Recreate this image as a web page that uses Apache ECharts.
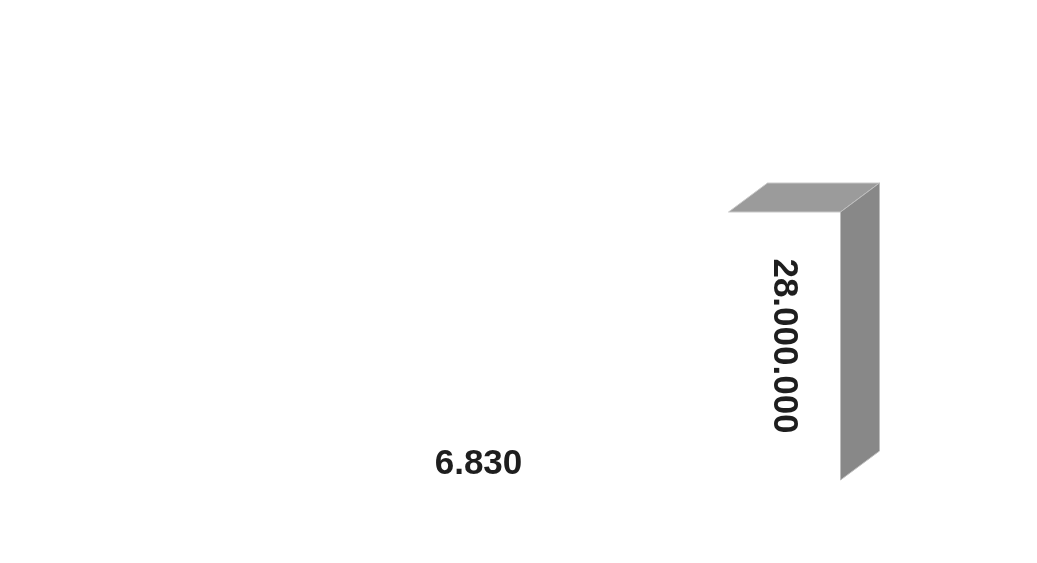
<!DOCTYPE html>
<html>
<head>
<meta charset="utf-8">
<script src="https://cdn.jsdelivr.net/npm/echarts@6/dist/echarts.min.js"></script>
<style>
html, body { margin: 0; padding: 0; background: #fff; }
#main { width: 1037px; height: 563px; }
</style>
</head>
<body>
<div id="main"></div>
<script>
var categories = ['A', 'B'];
var values = [6830, 28000000];

function fmt(v) {
    return String(v).replace(/\B(?=(\d{3})+(?!\d))/g, '.');
}

var myChart = echarts.init(document.getElementById('main'));
var depthX = 39, depthY = 29, barW = 112;

var option = {
    animation: false,
    grid: { left: 324, width: 614, top: 212, bottom: 83 },
    xAxis: { type: 'category', data: categories, show: false },
    yAxis: { type: 'value', min: 0, max: 28000000, show: false },
    series: [{
        type: 'custom',
        clip: false,
        data: [],
        renderItem: function (params, api) {
            var base = api.coord([api.value(0), 0]);
            var top = api.coord([api.value(0), api.value(1)]);
            var x0 = base[0] - barW / 2, x1 = base[0] + barW / 2;
            var y0 = base[1], y1 = top[1];
            var h = y0 - y1;
            var children = [];
            var font = 'bold 35px "Liberation Sans", Arial, sans-serif';
            if (h >= 1) {
                // top face
                children.push({
                    type: 'polygon',
                    shape: { points: [[x0, y1], [x1, y1], [x1 + depthX, y1 - depthY], [x0 + depthX, y1 - depthY]] },
                    style: { fill: '#9b9b9b', stroke: '#c8c8c8', lineWidth: 1 }
                });
                // side face
                children.push({
                    type: 'polygon',
                    shape: { points: [[x1, y1], [x1 + depthX, y1 - depthY], [x1 + depthX, y0 - depthY], [x1, y0]] },
                    style: { fill: '#888888', stroke: '#bdbdbd', lineWidth: 1 }
                });
                children.push({
                    type: 'text',
                    x: base[0] - 1, y: (y0 + y1) / 2,
                    rotation: -Math.PI / 2,
                    style: { text: fmt(api.value(1)), font: font, fill: '#1e1e1e', align: 'center', verticalAlign: 'middle' }
                });
            } else {
                children.push({
                    type: 'text',
                    x: base[0] + 1, y: y1 + 2,
                    style: { text: fmt(api.value(1)), font: font, fill: '#1e1e1e', align: 'center', verticalAlign: 'bottom' }
                });
            }
            return { type: 'group', children: children };
        },
        encode: { x: 0, y: 1 }
    }]
};
option.series[0].data = values.map(function (v, i) { return [i, v]; });
myChart.setOption(option);
</script>
</body>
</html>
